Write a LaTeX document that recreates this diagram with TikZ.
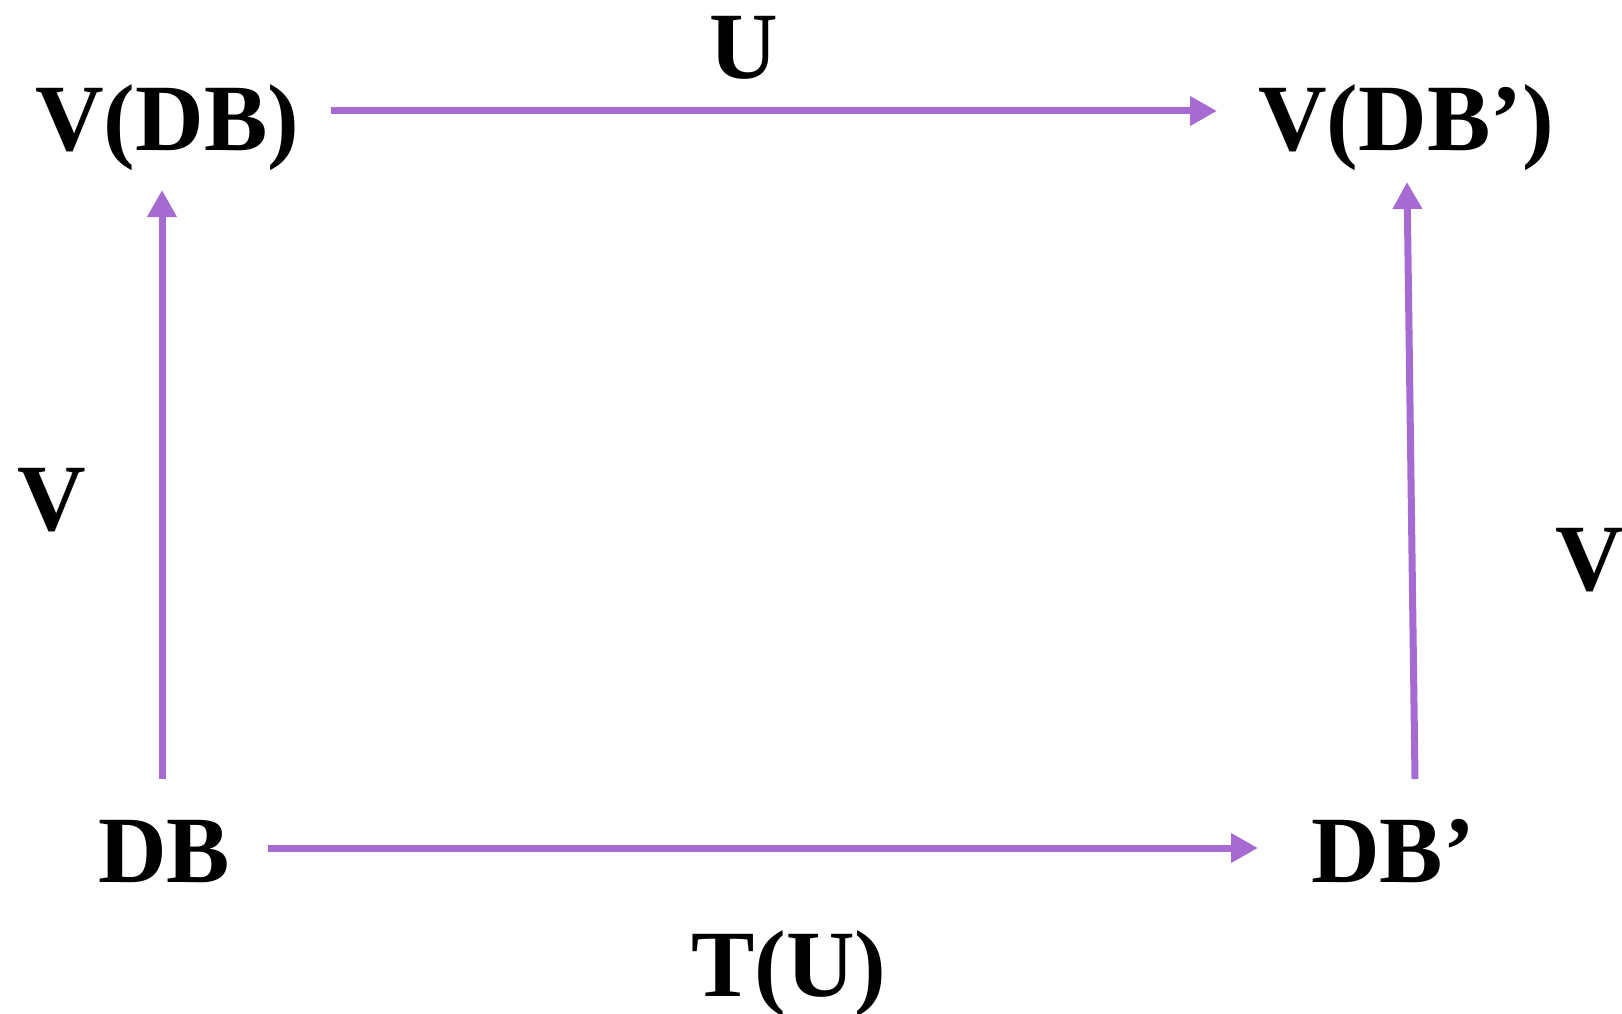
\documentclass[tikz,border=0pt]{standalone}
\usepackage{fontspec}
\setmainfont{Liberation Serif}
\usetikzlibrary{arrows.meta}
\definecolor{arrowpurple}{RGB}{166,106,211}
\begin{document}
\begin{tikzpicture}[x=1pt,y=-1pt,
  lbl/.style={inner sep=0pt,font=\fontsize{95}{98}\selectfont\bfseries},
  conn/.style={draw=arrowpurple,line width=7pt,-{Triangle[length=27pt,width=28pt]}}]
\useasboundingbox[fill=white] (0,0) rectangle (1622,1014);
\node[lbl,anchor=base west] (vdb) at (35,150) {V(DB)};
\node[lbl,anchor=base west] (vdbp) at (1258,150) {V(DB’)};
\node[lbl,anchor=base west] (vl) at (17,530) {V};
\node[lbl,anchor=base west] (vr) at (1555,590) {V};
\node[lbl,anchor=base west] (db) at (98,882) {DB};
\node[lbl,anchor=base west] (dbp) at (1311,882) {DB’};
\node[lbl,anchor=base] (u) at (744,79) {U};
\node[lbl,anchor=base] (tu) at (789,996) {T(U)};
\coordinate (a1s) at (331,111);
\coordinate (a1e) at (1217,111);
\coordinate (a2s) at (162,779);
\coordinate (a2e) at (162,190);
\coordinate (a3s) at (1415,779);
\coordinate (a3e) at (1407,182);
\coordinate (a4s) at (268,848);
\coordinate (a4e) at (1258,848);
\draw[conn] (a1s) -- (a1e);
\draw[conn] (a2s) -- (a2e);
\draw[conn] (a3s) -- (a3e);
\draw[conn] (a4s) -- (a4e);
\end{tikzpicture}
\end{document}
